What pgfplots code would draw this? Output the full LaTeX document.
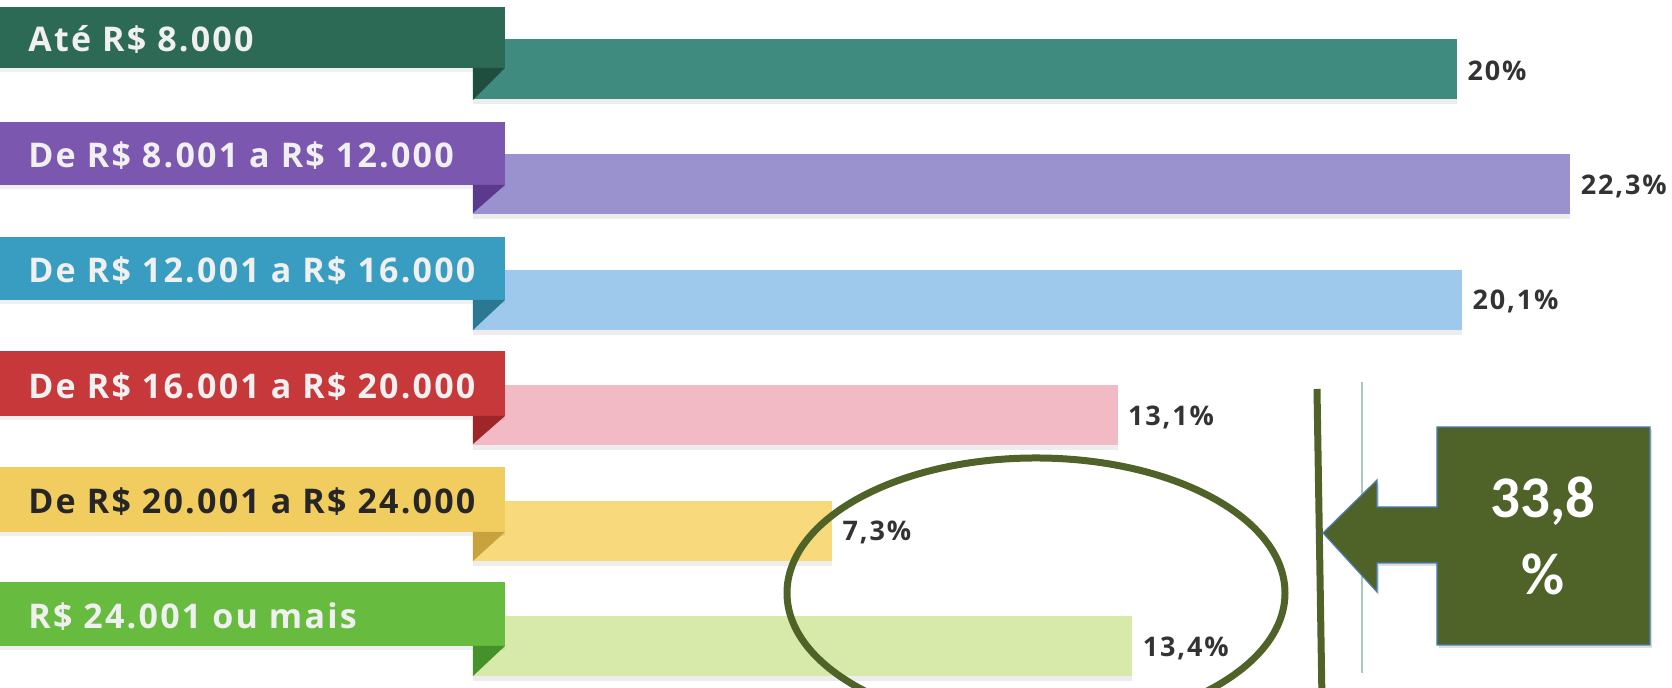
\documentclass[border=0pt]{standalone}
\usepackage{pgfplots}
\pgfplotsset{compat=1.18}
\usetikzlibrary{shadows}
\usepackage{fontspec}
\setmainfont{Open Sans}
\newfontfamily\carlito{Carlito}
\definecolor{r1}{HTML}{2D6A55}\definecolor{f1}{HTML}{1F4E3E}\definecolor{b1}{HTML}{3F8B80}
\definecolor{r2}{HTML}{7C57B0}\definecolor{f2}{HTML}{5B3A8E}\definecolor{b2}{HTML}{9A92CE}
\definecolor{r3}{HTML}{399DC2}\definecolor{f3}{HTML}{2B7893}\definecolor{b3}{HTML}{9FC9EC}
\definecolor{r4}{HTML}{C7383B}\definecolor{f4}{HTML}{9E2629}\definecolor{b4}{HTML}{F2BAC4}
\definecolor{r5}{HTML}{F1CC5F}\definecolor{f5}{HTML}{C8A33D}\definecolor{b5}{HTML}{F8DA7C}
\definecolor{r6}{HTML}{67BB3F}\definecolor{f6}{HTML}{46922A}\definecolor{b6}{HTML}{D8EAA9}
\definecolor{olivebox}{HTML}{4F6228}
\definecolor{boxedge}{HTML}{4A7EBB}
\definecolor{thinline}{HTML}{A9C9C3}
\definecolor{valtext}{HTML}{333333}
\pgfplotsset{layers/ribbonfirst/.define layer set={axis background,axis grid,axis ticks,axis lines,pre main,main,axis tick labels,axis descriptions,axis foreground}{
  tick style={/pgfplots/on layer=axis ticks},
  axis line style={/pgfplots/on layer=axis lines},
  ticklabel style={/pgfplots/on layer=axis tick labels},
}}
\newcommand\rib[5]{%
  \fill[#4, drop shadow={shadow xshift=0pt, shadow yshift=-2pt, opacity=0.12}] (rel axis cs:0,{1-#1/688}) rectangle (rel axis cs:{505/1672},{1-#2/688});
  \fill[#5] (rel axis cs:{473/1672},{1-#2/688}) -- (rel axis cs:{505/1672},{1-#2/688}) -- (rel axis cs:{473/1672},{1-#3/688}) -- cycle;
}
\begin{document}
\begin{tikzpicture}
\begin{axis}[
  set layers=ribbonfirst,
  scale only axis, width=836pt, height=344pt,
  xmin=-9.612, xmax=24.365, ymin=-0.364, ymax=5.598,
  axis line style={draw=none}, tick style={draw=none},
  xtick=\empty,
  ytick={0,1,2,3,4,5},
  yticklabels={R\$ 24.001 ou mais,{\color{black!85}De R\$ 20.001 a R\$ 24.000},De R\$ 16.001 a R\$ 20.000,De R\$ 12.001 a R\$ 16.000,De R\$ 8.001 a R\$ 12.000,Até R\$ 8.000},
  yticklabel style={anchor=base west, inner sep=0pt, xshift=14pt, yshift=8.5pt,
    font=\fontsize{17}{17}\selectfont\bfseries\addfontfeatures{LetterSpace=6.5}, text=white!94!black},
  clip=false,
  nodes near coords={\pgfmathprintnumber[fixed,precision=1,use comma,assume math mode=true]{\pgfplotspointmeta}\%},
  point meta=x,
  every node near coord/.style={anchor=west, inner sep=0pt, xshift=5pt, yshift=-1pt,
    font=\fontsize{13.5}{14}\selectfont\bfseries\addfontfeatures{LetterSpace=7}, text=valtext},
  barsty/.style={xbar, bar shift=0pt, bar width=0.52, draw=none,
    drop shadow={shadow xshift=0pt, shadow yshift=-2.5pt, opacity=0.14}},
]
\addplot[barsty, fill=b1] coordinates {(20,5)};
\addplot[barsty, fill=b2] coordinates {(22.3,4)};
\addplot[barsty, fill=b3] coordinates {(20.1,3)};
\addplot[barsty, fill=b4] coordinates {(13.1,2)};
\addplot[barsty, fill=b5] coordinates {(7.3,1)};
\addplot[barsty, fill=b6] coordinates {(13.4,0)};
\rib{7}{68}{100}{r1}{f1}
\rib{122}{185}{213}{r2}{f2}
\rib{237}{300}{330}{r3}{f3}
\rib{351}{416}{444}{r4}{f4}
\rib{467}{532}{561}{r5}{f5}
\rib{582}{646}{676}{r6}{f6}
\draw[olivebox, line width=3.5pt] (rel axis cs:{1036/1672},{1-593/688}) ellipse [x radius=124.5pt, y radius=67.5pt];
\draw[olivebox, line width=3.5pt] (rel axis cs:{1317/1672},{1-389/688}) -- (rel axis cs:{1322/1672},{1-700/688});
\draw[thinline, line width=1pt] (rel axis cs:{1362/1672},{1-382/688}) -- (rel axis cs:{1362/1672},{1-673/688});
\filldraw[fill=olivebox, draw=boxedge, line width=0.6pt, drop shadow={shadow xshift=1pt, shadow yshift=-1.5pt, opacity=0.25}]
  (rel axis cs:{1437/1672},{1-427/688}) -- (rel axis cs:{1650/1672},{1-427/688})
  -- (rel axis cs:{1650/1672},{1-645/688}) -- (rel axis cs:{1437/1672},{1-645/688})
  -- (rel axis cs:{1437/1672},{1-563/688}) -- (rel axis cs:{1377/1672},{1-563/688})
  -- (rel axis cs:{1377/1672},{1-592/688}) -- (rel axis cs:{1323/1672},{1-533/688})
  -- (rel axis cs:{1377/1672},{1-480/688}) -- (rel axis cs:{1377/1672},{1-507/688})
  -- (rel axis cs:{1437/1672},{1-507/688}) -- cycle;
\node[anchor=base, inner sep=0pt, text=white, font=\carlito\bfseries\fontsize{29.5}{30}\selectfont] at (rel axis cs:{1543/1672},{1-518/688}) {33,8};
\node[anchor=base, inner sep=0pt, text=white, font=\carlito\bfseries\fontsize{29.5}{30}\selectfont] at (rel axis cs:{1543/1672},{1-595/688}) {\%};
\end{axis}
\pgfresetboundingbox
\useasboundingbox (current axis.south west) rectangle (current axis.north east);
\end{tikzpicture}
\end{document}
